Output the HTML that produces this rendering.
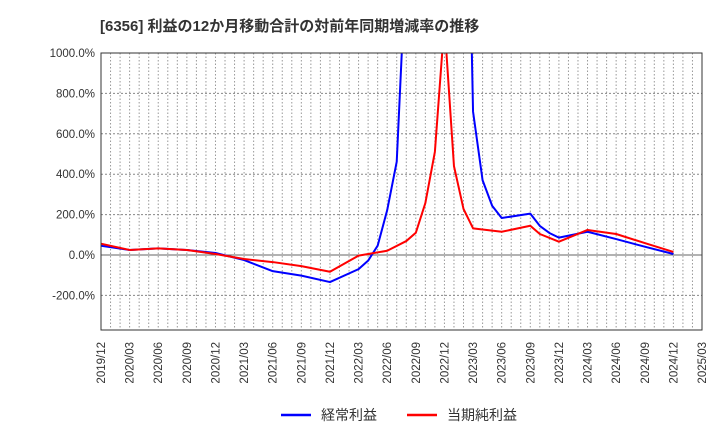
<!DOCTYPE html>
<html><head><meta charset="utf-8">
<style>
body{margin:0;background:#fff;font-family:"Liberation Sans","Noto Sans CJK JP",sans-serif;}
svg text{font-family:"Liberation Sans","Noto Sans CJK JP",sans-serif;}
</style></head>
<body>
<svg id="chart" width="720" height="440" xmlns="http://www.w3.org/2000/svg">
<text x="100" y="31" font-size="15" font-weight="bold" fill="#333">[6356]  利益の12か月移動合計の対前年同期増減率の推移</text>
<defs><clipPath id="plotclip"><rect x="101" y="53" width="601" height="277"/></clipPath></defs>
<g id="grid"></g>
<g id="series" clip-path="url(#plotclip)"></g>
<rect x="101" y="53" width="601" height="277" fill="none" stroke="#333" stroke-width="1"/>
<g id="yticks"></g>
<g id="xticks"></g>
<g>
<line x1="281" y1="415" x2="311" y2="415" stroke="#0000ff" stroke-width="2.5"/>
<text x="321" y="420" font-size="14" fill="#333">経常利益</text>
<line x1="407" y1="415" x2="437" y2="415" stroke="#ff0000" stroke-width="2.5"/>
<text x="447" y="420" font-size="14" fill="#333">当期純利益</text>
</g>
</svg>
<script>
const xTickLabels=["2019/12","2020/03","2020/06","2020/09","2020/12","2021/03","2021/06","2021/09","2021/12","2022/03","2022/06","2022/09","2022/12","2023/03","2023/06","2023/09","2023/12","2024/03","2024/06","2024/09","2024/12","2025/03"];
const yTickValues=[1000,800,600,400,200,0,-200];
// month index from 2019/12
const blueMonths=[0,3,6,9,12,15,18,21,24,27,28,29,30,31,32,38,39,40,41,42,45,46,47,48,51,54,57,60];
const blueValues=[46,25,33,25,10,-25,-80,-102,-134,-70,-28,46,222,462,1480,3000,710,370,244,183,205,144,109,86,115,79,41,5];
const redMonths=[0,3,6,9,12,15,18,21,24,27,30,32,33,34,35,36,37,38,39,42,45,46,48,51,54,57,60];
const redValues=[56,25,33,25,5,-20,-35,-55,-83,-3,21,69,110,257,511,1150,440,228,132,115,145,104,66,124,104,59,15];

const NS="http://www.w3.org/2000/svg";
const X0=101,X1=702,Y0=53,Y1=330,NM=63;
function xs(m){return X0+m*(X1-X0)/NM;}
function ys(v){return 255-v*(255-53)/1000;}
const grid=document.getElementById('grid');
for(let m=1;m<NM;m++){
  const l=document.createElementNS(NS,'line');
  l.setAttribute('x1',xs(m));l.setAttribute('x2',xs(m));l.setAttribute('y1',Y0);l.setAttribute('y2',Y1);
  l.setAttribute('stroke','#999');l.setAttribute('stroke-dasharray','1.5,2');l.setAttribute('stroke-width','1');
  
  
  grid.appendChild(l);
}
const yt=document.getElementById('yticks');
yTickValues.forEach(v=>{
  const y=ys(v);
  const l=document.createElementNS(NS,'line');
  l.setAttribute('x1',X0);l.setAttribute('x2',X1);l.setAttribute('y1',y);l.setAttribute('y2',y);
  l.setAttribute('stroke',v===0?'#666':'#888');l.setAttribute('stroke-width','1');
  if(v!==0)l.setAttribute('stroke-dasharray','2,2');
  
  
  grid.appendChild(l);
  const t=document.createElementNS(NS,'text');
  t.setAttribute('x',X0-6);t.setAttribute('y',y+4);t.setAttribute('text-anchor','end');
  t.setAttribute('font-size','11.5');t.setAttribute('fill','#333');
  t.textContent=v.toFixed(1)+'%';
  
  
  yt.appendChild(t);
});
const xt=document.getElementById('xticks');
xTickLabels.forEach((s,i)=>{
  const x=xs(i*3);
  const t=document.createElementNS(NS,'text');
  t.setAttribute('transform','translate('+(x+4)+',342) rotate(-90)');
  t.setAttribute('text-anchor','end');t.setAttribute('font-size','11.5');t.setAttribute('fill','#333');
  t.textContent=s;
  
  
  xt.appendChild(t);
});
const ser=document.getElementById('series');
function drawLine(ms,vs,color,name){
  const p=document.createElementNS(NS,'polyline');
  p.setAttribute('points',ms.map((m,i)=>xs(m)+','+ys(vs[i])).join(' '));
  p.setAttribute('fill','none');p.setAttribute('stroke',color);p.setAttribute('stroke-width','2');
  p.setAttribute('stroke-linejoin','round');
  
  
  ser.appendChild(p);
}
drawLine(blueMonths,blueValues,'#0000ff','ordinary-profit-line');
drawLine(redMonths,redValues,'#ff0000','net-profit-line');
</script>
</body></html>
